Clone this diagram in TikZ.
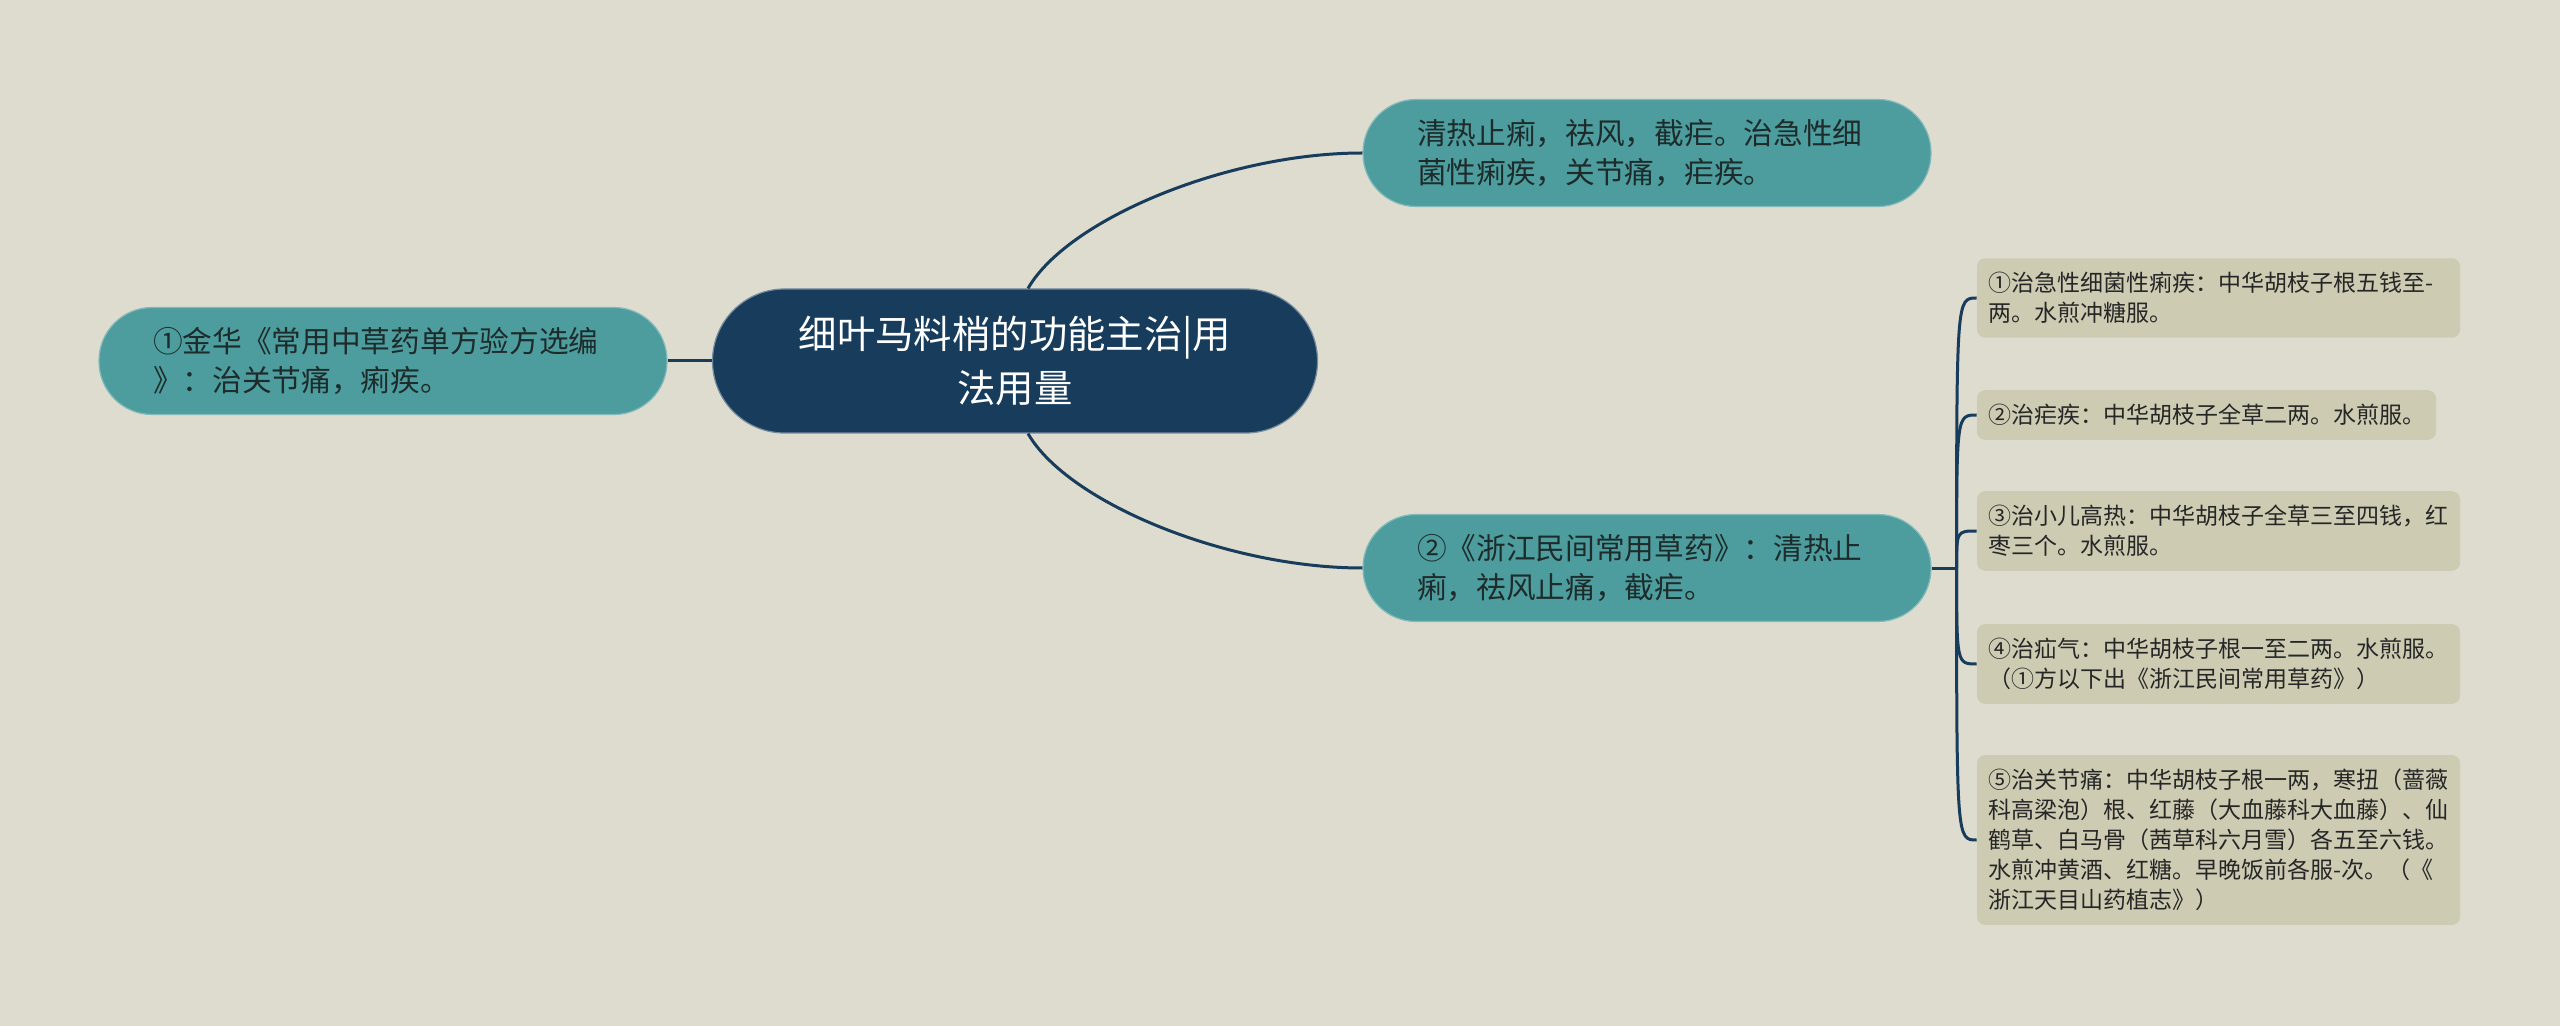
\documentclass[tikz,border=0pt]{standalone}
\usepackage{fontspec}
\setmainfont{Noto Sans CJK SC}
\usepackage{tikz}
\usetikzlibrary{positioning}
\definecolor{canvas}{HTML}{DEDCCE}
\definecolor{navy}{HTML}{173C5C}
\definecolor{tealbox}{HTML}{4D9D9E}
\definecolor{khaki}{HTML}{CECBB3}
\definecolor{inkdark}{HTML}{1E2B2B}
\tikzstyle{root} = [rectangle, rounded corners=36pt, minimum width=302.5pt, minimum height=72pt, fill=navy, draw=navy!60!white, line width=0.6pt, text=white, align=center, font=\fontsize{19.2}{27}\selectfont]
\tikzstyle{branch} = [rectangle, rounded corners=26.5pt, minimum height=53.5pt, text width=230pt, inner xsep=27pt, fill=tealbox, draw=tealbox!70!white, line width=0.6pt, text=inkdark, align=left, font=\fontsize{14.85}{19.5}\selectfont]
\tikzstyle{leaf} = [rectangle, rounded corners=4pt, inner xsep=5.5pt, inner ysep=7pt, fill=khaki, text=black!85, align=left, font=\fontsize{11.5}{15}\selectfont]
\tikzstyle{wideleaf} = [leaf, text width=230.5pt]
\tikzstyle{link} = [navy, line width=1.5pt]

\begin{document}
\begin{tikzpicture}[node distance=316pt]

        \fill[canvas] (0,0) rectangle (1280pt,-513pt);
        \useasboundingbox (0,0) rectangle (1280pt,-513pt);

        % Nodes
        \node (main) [root] at (507.5pt,-180.5pt) {细叶马料梢的功能主治|用\\法用量};
        \node (effect) [branch, right of=main, yshift=104pt] {清热止痢，祛风，截疟。治急性细\\菌性痢疾，关节痛，疟疾。};
        \node (zhejiang) [branch, right of=main, yshift=-103.5pt] {②《浙江民间常用草药》：清热止\\痢，祛风止痛，截疟。};
        \node (jinhua) [branch, left of=main] {①金华《常用中草药单方验方选编\\》：治关节痛，痢疾。};
        \coordinate [right=12.5pt of zhejiang] (hub);
        \node (dysentery) [wideleaf, right=10pt of hub, yshift=135pt] {①治急性细菌性痢疾：中华胡枝子根五钱至-\\两。水煎冲糖服。};
        \node (malaria) [leaf, right=10pt of hub, yshift=76.5pt] {②治疟疾：中华胡枝子全草二两。水煎服。};
        \node (fever) [wideleaf, right=10pt of hub, yshift=18.5pt] {③治小儿高热：中华胡枝子全草三至四钱，红\\枣三个。水煎服。};
        \node (hernia) [wideleaf, right=10pt of hub, yshift=-48pt] {④治疝气：中华胡枝子根一至二两。水煎服。\\（①方以下出《浙江民间常用草药》）};
        \node (joint) [wideleaf, right=10pt of hub, yshift=-136pt] {⑤治关节痛：中华胡枝子根一两，寒扭（蔷薇\\科高梁泡）根、红藤（大血藤科大血藤）、仙\\鹤草、白马骨（茜草科六月雪）各五至六钱。\\水煎冲黄酒、红糖。早晚饭前各服-次。（《\\浙江天目山药植志》）};

        % Lines
        \draw [link] (main.west) -- (jinhua.east);
        \draw [link] ([xshift=6.5pt]main.north) .. controls +(60:40pt) and +(-67.5pt,0) .. (effect.west);
        \draw [link] ([xshift=6.5pt]main.south) .. controls +(-60:40pt) and +(-67.5pt,0) .. (zhejiang.west);
        \draw [link] (zhejiang.east) -- (hub);
        \draw [link] (hub) .. controls (hub |- dysentery.west) .. (dysentery.west);
        \draw [link] (hub) .. controls (hub |- malaria.west) .. (malaria.west);
        \draw [link] (hub) .. controls (hub |- fever.west) .. (fever.west);
        \draw [link] (hub) .. controls (hub |- hernia.west) .. (hernia.west);
        \draw [link] (hub) .. controls (hub |- joint.west) .. (joint.west);

    \end{tikzpicture}
\end{document}
